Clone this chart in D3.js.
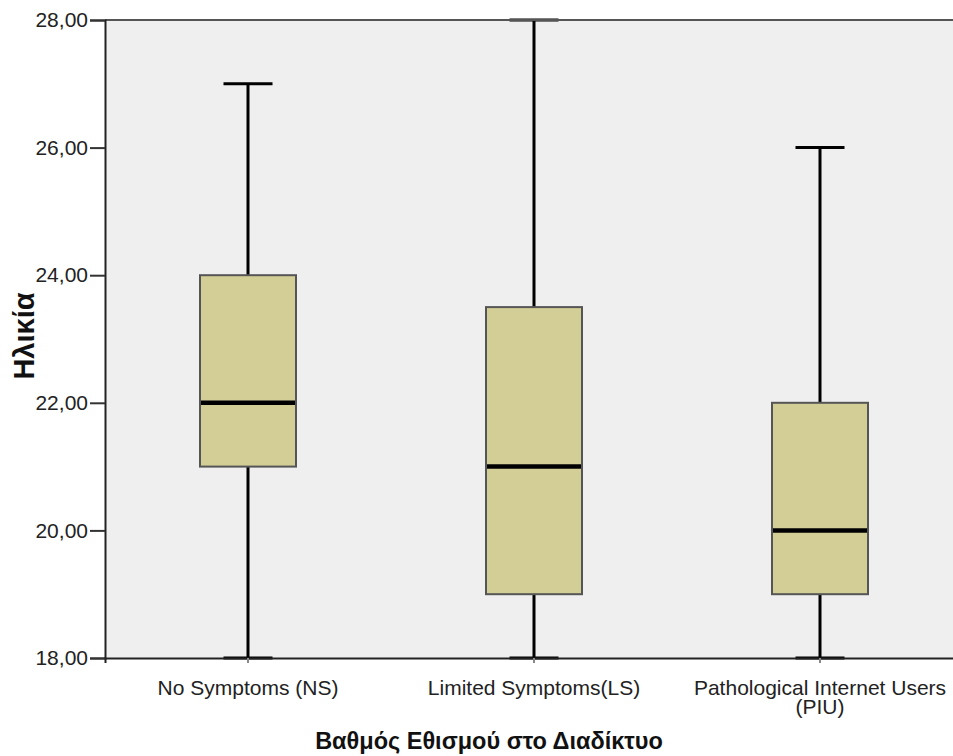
<!DOCTYPE html>
<html><head><meta charset="utf-8">
<script src="https://cdn.jsdelivr.net/npm/d3@7"></script>
<style>body{margin:0;background:#fff}svg{display:block}</style>
</head><body>
<script>
const categories = ["No Symptoms (NS)", "Limited Symptoms(LS)", "Pathological Internet Users\n(PIU)"];
const mins    = [18, 18, 18];
const q1s     = [21, 19, 19];
const medians = [22, 21, 20];
const q3s     = [24, 23.5, 22];
const maxs    = [27, 28, 26];
const yTicks  = [18, 20, 22, 24, 26, 28];

const W = 953, H = 756;
const m = {left: 105, top: 20, right: -10, bottom: 98};
const svg = d3.select("body").append("svg").attr("width", W).attr("height", H);
const x = d3.scaleBand().domain(categories).range([m.left, W - m.right]);
const y = d3.scaleLinear().domain([18, 28]).range([H - m.bottom, m.top]);
const font = "'Liberation Sans', Arial, sans-serif";

svg.append("rect").attr("x", m.left).attr("y", m.top)
  .attr("width", W - m.right - m.left).attr("height", y(18) - m.top).attr("fill", "#efefef");

const data = categories.map((c, i) => ({c, min: mins[i], q1: q1s[i], med: medians[i], q3: q3s[i], max: maxs[i]}));
const bw = 96, cw = 49;
const g = svg.append("g").selectAll("g").data(data).join("g")
  .attr("transform", d => `translate(${x(d.c) + x.bandwidth() / 2},0)`);
g.append("line").attr("y1", d => y(d.max)).attr("y2", d => y(d.min)).attr("stroke", "#000").attr("stroke-width", 3);
g.append("line").attr("x1", -cw / 2).attr("x2", cw / 2).attr("y1", d => y(d.max)).attr("y2", d => y(d.max)).attr("stroke", "#000").attr("stroke-width", 3);
g.append("line").attr("x1", -cw / 2).attr("x2", cw / 2).attr("y1", d => y(d.min)).attr("y2", d => y(d.min)).attr("stroke", "#000").attr("stroke-width", 3);
g.append("rect").attr("x", -bw / 2).attr("width", bw).attr("y", d => y(d.q3)).attr("height", d => y(d.q1) - y(d.q3))
  .attr("fill", "#d3ce96").attr("stroke", "#555").attr("stroke-width", 2);
g.append("line").attr("x1", -bw / 2 + 1).attr("x2", bw / 2 - 1).attr("y1", d => y(d.med)).attr("y2", d => y(d.med)).attr("stroke", "#000").attr("stroke-width", 4.5);

// top border
svg.append("line").attr("x1", m.left).attr("x2", W).attr("y1", m.top).attr("y2", m.top).attr("stroke", "#555").attr("stroke-width", 2);

// Y axis
const ya = svg.append("g").attr("transform", `translate(${m.left},0)`)
  .call(d3.axisLeft(y).tickValues(yTicks).tickSize(15).tickFormat(d => d3.format(".2f")(d).replace(".", ",")));
ya.select(".domain").attr("stroke", "#222").attr("stroke-width", 2);
ya.selectAll(".tick line").attr("stroke", "#333").attr("stroke-width", 2);
ya.selectAll(".tick text").attr("font-family", font).attr("font-size", 21).attr("fill", "#222").attr("x", -17);

// X axis
const xa = svg.append("g").attr("transform", `translate(0,${y(18)})`)
  .call(d3.axisBottom(x).tickSize(5).tickFormat(""));
xa.select(".domain").attr("stroke", "#222").attr("stroke-width", 2);
xa.selectAll(".tick line").attr("stroke", "#888").attr("stroke-width", 2);
xa.selectAll(".tick").each(function(d) {
  const lines = d.split("\n");
  const t = d3.select(this).append("text").attr("font-family", font).attr("font-size", 21)
    .attr("fill", "#222").attr("text-anchor", "middle").attr("y", 36.5);
  lines.forEach((l, i) => t.append("tspan").attr("x", 0).attr("dy", i ? 19 : 0).text(l));
});

svg.append("text").attr("x", 489).attr("y", 749).attr("text-anchor", "middle")
  .attr("font-family", font).attr("font-weight", "bold").attr("font-size", 23.5).attr("fill", "#111")
  .text("Βαθμός Εθισμού στο Διαδίκτυο");
svg.append("text").attr("transform", "translate(34,336) rotate(-90)").attr("text-anchor", "middle")
  .attr("font-family", font).attr("font-weight", "bold").attr("font-size", 29).attr("fill", "#111")
  .text("Ηλικία");
</script>
</body></html>
